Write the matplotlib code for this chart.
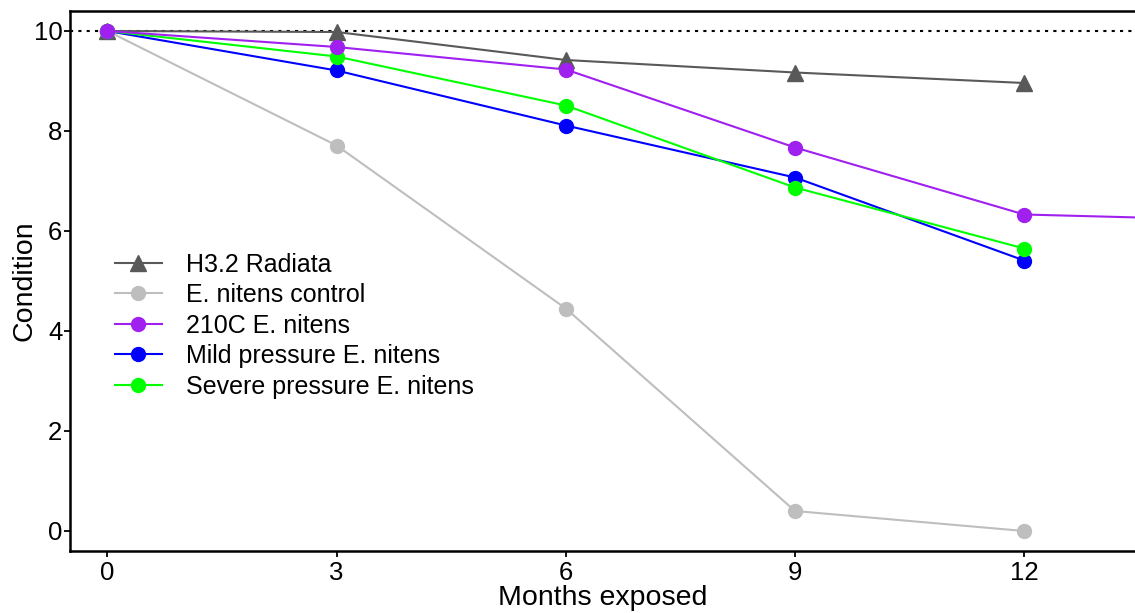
import matplotlib
matplotlib.use("Agg")
import matplotlib.pyplot as plt

plt.rcParams['font.family'] = ['Liberation Sans', 'DejaVu Sans']

months = [0, 3, 6, 9, 12]
months_210c = [0, 3, 6, 9, 12, 15]

radiata = [10.0, 9.98, 9.42, 9.17, 8.96]
control = [10.0, 7.71, 4.45, 0.40, 0.0]
e210c = [10.0, 9.68, 9.23, 7.67, 6.33, 6.21]
mild = [10.0, 9.21, 8.11, 7.07, 5.41]
severe = [10.0, 9.49, 8.51, 6.87, 5.65]

labels = ["H3.2 Radiata", "E. nitens control", "210C E. nitens",
          "Mild pressure E. nitens", "Severe pressure E. nitens"]
xticks = [0, 3, 6, 9, 12]
yticks = [0, 2, 4, 6, 8, 10]

W, H = 1135, 613
fig = plt.figure(figsize=(W / 100, H / 100), dpi=100)
left, right, top, bottom = 70, 1135, 11, 551
ax = fig.add_axes([left / W, 1 - bottom / H, (right - left) / W, (bottom - top) / H])

ax.axhline(10, color='black', linestyle=(0, (1.5, 2.5)), lw=1.5, zorder=1)

lw = 1.5
ms = 10
h1, = ax.plot(months, radiata, color='#595959', marker='^', ms=12, lw=lw, label=labels[0], zorder=3)
h2, = ax.plot(months, control, color='#bebebe', marker='o', ms=ms, lw=lw, label=labels[1], zorder=4)
h4, = ax.plot(months, mild, color='#0000ff', marker='o', ms=ms, lw=lw, label=labels[3], zorder=5)
h5, = ax.plot(months, severe, color='#00ff00', marker='o', ms=ms, lw=lw, label=labels[4], zorder=6)
h3, = ax.plot(months_210c, e210c, color='#a020f0', marker='o', ms=ms, lw=lw, label=labels[2], zorder=7)

ax.set_xlim(-0.49, 13.45)
ax.set_ylim(-0.4, 10.4)
ax.set_xticks(xticks)
ax.set_yticks(yticks)
ax.tick_params(axis='both', direction='out', length=4, width=1.3, labelsize=18.5, colors='black', pad=1.5)
ax.tick_params(axis='x', pad=3)
for s in ['left', 'bottom', 'top']:
    ax.spines[s].set_linewidth(1.8)
ax.spines['right'].set_visible(False)

ax.set_xlabel("Months exposed", fontsize=20.5, labelpad=0)
ax.set_ylabel("Condition", fontsize=20.5, labelpad=-3)

leg = ax.legend(handles=[h1, h2, h3, h4, h5], loc='upper left',
                bbox_to_anchor=(0.0325, 0.571), frameon=False, fontsize=18,
                handlelength=1.9, handletextpad=0.95, labelspacing=0.26, borderaxespad=0)

fig.savefig("out.png", dpi=100)
